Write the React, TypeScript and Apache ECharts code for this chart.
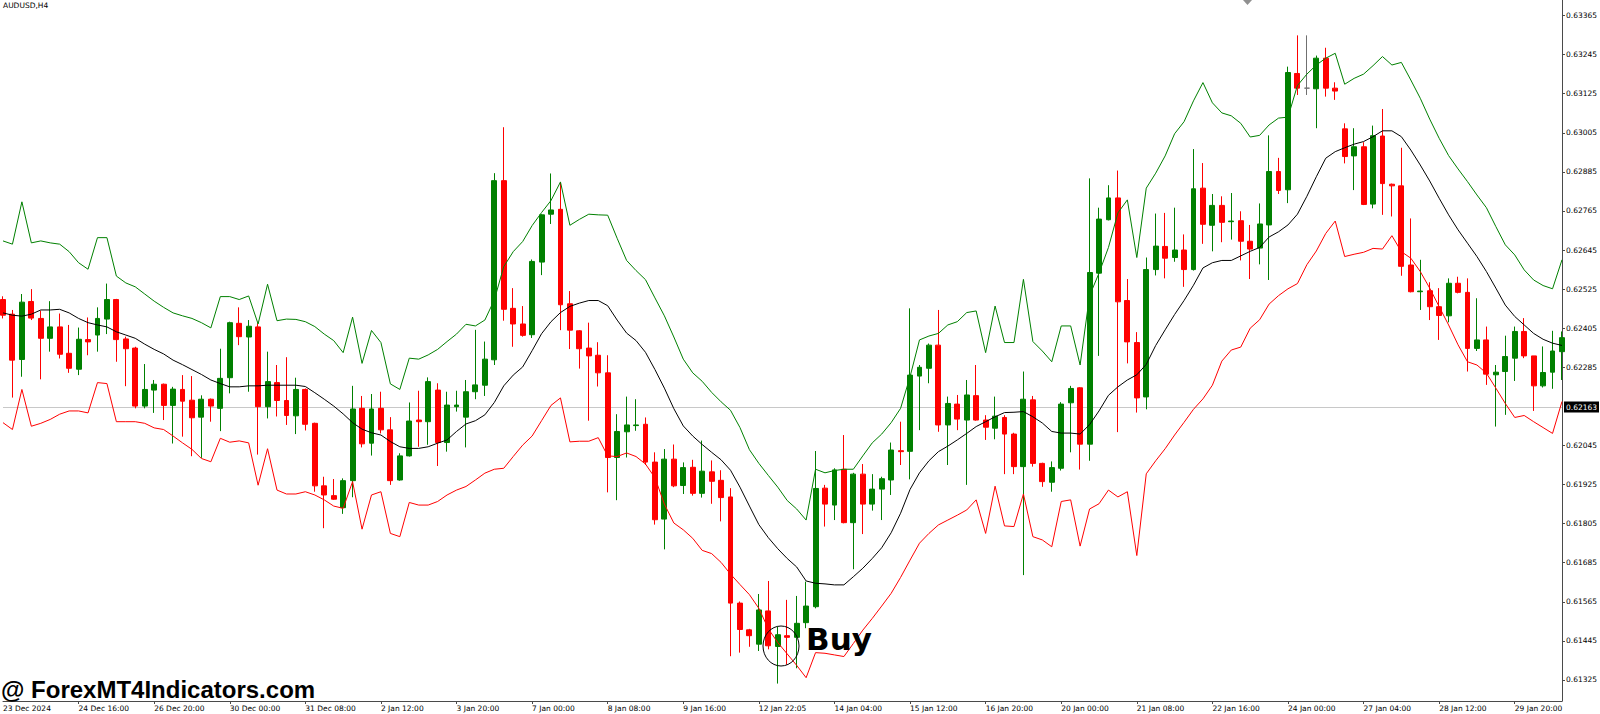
import React, { useEffect, useRef } from "react";
import * as echarts from "echarts";

const SYMBOL_TITLE = "AUDUSD,H4";
const WATERMARK = "@ ForexMT4Indicators.com";
const SIGNAL_TEXT = "Buy";
const CURRENT_PRICE = 0.62163;
const LABEL_EVERY = 8;

const timeLabels = [
  "23 Dec 2024", "24 Dec 16:00", "26 Dec 20:00", "30 Dec 00:00", "31 Dec 08:00",
  "2 Jan 12:00", "3 Jan 20:00", "7 Jan 00:00", "8 Jan 08:00", "9 Jan 16:00",
  "12 Jan 22:05", "14 Jan 04:00", "15 Jan 12:00", "16 Jan 20:00", "20 Jan 00:00",
  "21 Jan 08:00", "22 Jan 16:00", "24 Jan 00:00", "27 Jan 04:00", "28 Jan 12:00",
  "29 Jan 20:00",
];

const priceTicks = [
  0.63365, 0.63245, 0.63125, 0.63005, 0.62885, 0.62765, 0.62645, 0.62525, 0.62405,
  0.62285, 0.62045, 0.61925, 0.61805, 0.61685, 0.61565, 0.61445, 0.61325,
];

const openPrices = [
  0.62493,0.62448,0.62309,0.62487,0.62435,0.62374,0.62409,0.62328,0.62279,0.62370,
  0.62384,0.62433,0.62493,0.62372,0.62344,0.62166,0.62215,0.62233,0.62168,0.62217,
  0.62184,0.62132,0.62187,0.62159,0.62253,0.62420,0.62378,0.62409,0.62164,0.62238,
  0.62183,0.62136,0.62217,0.62113,0.61921,0.61891,0.61854,0.61937,0.62159,0.62052,
  0.62159,0.62093,0.61939,0.62013,0.62123,0.62118,0.62215,0.62054,0.62164,0.62132,
  0.62210,0.62230,0.62308,0.62858,0.62466,0.62418,0.62385,0.62608,0.62755,0.62770,
  0.62480,0.62397,0.62344,0.62322,0.62268,0.62008,0.62087,0.62106,0.62110,0.61994,
  0.61819,0.62003,0.61922,0.61978,0.61898,0.61964,0.61938,0.61887,0.61561,0.61479,
  0.61435,0.61537,0.61428,0.61461,0.61456,0.61501,0.61550,0.61914,0.61862,0.61972,
  0.61808,0.61957,0.61865,0.61911,0.61939,0.62029,0.62027,0.62258,0.62282,0.62353,
  0.62108,0.62172,0.62123,0.62198,0.62123,0.62098,0.62131,0.62080,0.61980,0.62185,
  0.61990,0.61932,0.61975,0.62176,0.62222,0.62049,0.62574,0.62738,0.62805,0.62490,
  0.62361,0.62194,0.62585,0.62656,0.62622,0.62645,0.62585,0.62835,0.62721,0.62782,
  0.62732,0.62735,0.62672,0.62651,0.62722,0.62886,0.62830,0.63187,0.63142,0.63140,
  0.63234,0.63142,0.63017,0.62934,0.62962,0.62786,0.62995,0.62847,0.62842,0.62599,
  0.62517,0.62520,0.62471,0.62443,0.62543,0.62515,0.62343,0.62369,0.62262,0.62272,
  0.62313,0.62395,0.62320,0.62228,0.62270,0.62333,
];

const closePrices = [
  0.62445,0.62307,0.62485,0.62436,0.62374,0.62409,0.62325,0.62282,0.62371,0.62363,
  0.62435,0.62493,0.62370,0.62342,0.62166,0.62217,0.62233,0.62168,0.62218,0.62181,
  0.62130,0.62187,0.62166,0.62251,0.62422,0.62379,0.62411,0.62164,0.62241,0.62183,
  0.62137,0.62217,0.62110,0.61921,0.61893,0.61880,0.61937,0.62157,0.62050,0.62157,
  0.62093,0.61937,0.62013,0.62120,0.62118,0.62241,0.62054,0.62169,0.62169,0.62210,
  0.62231,0.62310,0.62858,0.62463,0.62418,0.62383,0.62610,0.62753,0.62768,0.62477,
  0.62399,0.62342,0.62320,0.62268,0.62008,0.62088,0.62108,0.62108,0.61994,0.61817,
  0.62003,0.61921,0.61977,0.61898,0.61966,0.61935,0.61885,0.61561,0.61480,0.61461,
  0.61540,0.61430,0.61464,0.61456,0.61499,0.61552,0.61913,0.61865,0.61970,0.61808,
  0.61957,0.61865,0.61911,0.61943,0.62031,0.62026,0.62261,0.62285,0.62353,0.62108,
  0.62174,0.62126,0.62200,0.62123,0.62101,0.62135,0.62080,0.61980,0.62187,0.61990,
  0.61934,0.61977,0.62172,0.62220,0.62049,0.62576,0.62740,0.62805,0.62486,0.62363,
  0.62191,0.62585,0.62657,0.62620,0.62645,0.62585,0.62833,0.62724,0.62782,0.62730,
  0.62734,0.62672,0.62648,0.62725,0.62886,0.62828,0.63190,0.63142,0.63142,0.63234,
  0.63142,0.63133,0.62932,0.62962,0.62785,0.62996,0.62849,0.62842,0.62595,0.62517,
  0.62519,0.62471,0.62444,0.62543,0.62515,0.62343,0.62369,0.62264,0.62270,0.62318,
  0.62395,0.62320,0.62228,0.62269,0.62335,0.62376,
];

const highPrices = [
  0.62503,0.62461,0.62510,0.62525,0.62459,0.62488,0.62450,0.62415,0.62407,0.62438,
  0.62469,0.62542,0.62495,0.62379,0.62348,0.62295,0.62246,0.62235,0.62225,0.62261,
  0.62258,0.62199,0.62189,0.62342,0.62425,0.62469,0.62430,0.62420,0.62333,0.62292,
  0.62316,0.62253,0.62220,0.62115,0.61949,0.61942,0.61944,0.62228,0.62197,0.62203,
  0.62210,0.62132,0.62021,0.62177,0.62213,0.62254,0.62236,0.62210,0.62213,0.62246,
  0.62400,0.62364,0.62881,0.63022,0.62528,0.62473,0.62616,0.62755,0.62880,0.62854,
  0.62519,0.62399,0.62422,0.62362,0.62322,0.62141,0.62195,0.62187,0.62131,0.62024,
  0.62034,0.62048,0.61993,0.62001,0.62060,0.61999,0.61969,0.61914,0.61566,0.61482,
  0.61589,0.61629,0.61489,0.61571,0.61583,0.61627,0.62028,0.61924,0.61975,0.62077,
  0.61961,0.61988,0.61957,0.61949,0.62054,0.62118,0.62466,0.62292,0.62358,0.62461,
  0.62195,0.62200,0.62246,0.62292,0.62138,0.62195,0.62138,0.62084,0.62272,0.62197,
  0.61992,0.61996,0.62178,0.62228,0.62224,0.62865,0.62775,0.62844,0.62889,0.62556,
  0.62393,0.62622,0.62757,0.62759,0.62775,0.62693,0.62955,0.62912,0.62817,0.62810,
  0.62820,0.62764,0.62722,0.62788,0.62997,0.62928,0.63208,0.63304,0.63304,0.63242,
  0.63266,0.63160,0.63034,0.63019,0.62976,0.63027,0.63078,0.62849,0.62959,0.62742,
  0.62615,0.62546,0.62528,0.62558,0.62563,0.62558,0.62497,0.62410,0.62292,0.62382,
  0.62410,0.62436,0.62320,0.62349,0.62397,0.62395,
];

const lowPrices = [
  0.62435,0.62192,0.62256,0.62430,0.62248,0.62333,0.62312,0.62268,0.62261,0.62322,
  0.62333,0.62387,0.62302,0.62227,0.62159,0.62159,0.62145,0.62123,0.62051,0.62072,
  0.62012,0.62007,0.62118,0.62089,0.62205,0.62353,0.62210,0.62017,0.62128,0.62134,
  0.62108,0.62080,0.62091,0.61903,0.61791,0.61878,0.61835,0.61886,0.62039,0.62014,
  0.62082,0.61924,0.61937,0.62011,0.62041,0.62047,0.61982,0.62026,0.62149,0.62039,
  0.62187,0.62197,0.62292,0.62428,0.62348,0.62379,0.62375,0.62568,0.62725,0.62399,
  0.62341,0.62281,0.62121,0.62226,0.61901,0.61877,0.62008,0.62090,0.61985,0.61802,
  0.61726,0.61917,0.61896,0.61891,0.61885,0.61866,0.61812,0.61398,0.61409,0.61427,
  0.61414,0.61419,0.61314,0.61372,0.61361,0.61484,0.61545,0.61796,0.61816,0.61806,
  0.61665,0.61773,0.61845,0.61816,0.61893,0.61985,0.61941,0.62092,0.62236,0.62087,
  0.61985,0.62092,0.61924,0.62121,0.62062,0.62064,0.61957,0.61957,0.61647,0.61980,
  0.61918,0.61903,0.61968,0.62024,0.61971,0.61998,0.62320,0.62736,0.62086,0.62297,
  0.62146,0.62156,0.62567,0.62558,0.62609,0.62532,0.62582,0.62664,0.62641,0.62669,
  0.62677,0.62613,0.62556,0.62601,0.62553,0.62817,0.62789,0.63121,0.63121,0.63019,
  0.63116,0.63106,0.62911,0.62829,0.62783,0.62773,0.62753,0.62748,0.62566,0.62515,
  0.62461,0.62430,0.62369,0.62423,0.62512,0.62272,0.62335,0.62231,0.62103,0.62139,
  0.62243,0.62313,0.62151,0.62223,0.62219,0.62246,
];

const upperBand = [
  0.62673,0.62663,0.62793,0.62667,0.62673,0.62667,0.62663,0.62640,0.62606,0.62586,
  0.62683,0.62683,0.62565,0.62544,0.62532,0.62510,0.62488,0.62469,0.62452,0.62443,
  0.62435,0.62422,0.62406,0.62502,0.62502,0.62493,0.62504,0.62418,0.62540,0.62428,
  0.62433,0.62432,0.62425,0.62410,0.62387,0.62367,0.62330,0.62439,0.62297,0.62398,
  0.62361,0.62234,0.62217,0.62313,0.62310,0.62323,0.62340,0.62364,0.62387,0.62417,
  0.62412,0.62430,0.62492,0.62594,0.62640,0.62671,0.62720,0.62760,0.62797,0.62854,
  0.62721,0.62739,0.62755,0.62753,0.62752,0.62681,0.62613,0.62582,0.62554,0.62498,
  0.62443,0.62378,0.62310,0.62268,0.62242,0.62208,0.62179,0.62153,0.62100,0.62032,
  0.61990,0.61953,0.61917,0.61876,0.61850,0.61816,0.61972,0.61961,0.61968,0.61972,
  0.61972,0.62013,0.62053,0.62080,0.62115,0.62159,0.62256,0.62369,0.62381,0.62389,
  0.62415,0.62425,0.62453,0.62458,0.62330,0.62473,0.62361,0.62361,0.62555,0.62364,
  0.62335,0.62302,0.62412,0.62412,0.62292,0.62505,0.62574,0.62653,0.62759,0.62799,
  0.62622,0.62835,0.62881,0.62934,0.63002,0.63039,0.63103,0.63159,0.63097,0.63066,
  0.63057,0.63034,0.62992,0.62997,0.63029,0.63050,0.63053,0.63150,0.63185,0.63213,
  0.63234,0.63249,0.63154,0.63172,0.63185,0.63211,0.63239,0.63213,0.63221,0.63167,
  0.63111,0.63047,0.62988,0.62935,0.62894,0.62855,0.62814,0.62775,0.62717,0.62661,
  0.62630,0.62584,0.62553,0.62536,0.62526,0.62615,
];

const middleLine = [
  0.62452,0.62445,0.62442,0.62448,0.62461,0.62461,0.62463,0.62452,0.62435,0.62422,
  0.62415,0.62409,0.62394,0.62384,0.62374,0.62356,0.62340,0.62326,0.62307,0.62293,
  0.62278,0.62263,0.62246,0.62235,0.62225,0.62225,0.62228,0.62228,0.62230,0.62230,
  0.62230,0.62230,0.62226,0.62207,0.62187,0.62166,0.62142,0.62115,0.62095,0.62084,
  0.62077,0.62057,0.62041,0.62036,0.62036,0.62041,0.62052,0.62062,0.62088,0.62111,
  0.62121,0.62139,0.62177,0.62228,0.62261,0.62286,0.62336,0.62388,0.62425,0.62453,
  0.62472,0.62482,0.62490,0.62490,0.62474,0.62430,0.62390,0.62367,0.62331,0.62278,
  0.62221,0.62158,0.62105,0.62074,0.62048,0.62024,0.62001,0.61969,0.61917,0.61859,
  0.61802,0.61762,0.61728,0.61698,0.61672,0.61629,0.61622,0.61620,0.61617,0.61617,
  0.61642,0.61668,0.61698,0.61731,0.61777,0.61837,0.61910,0.61961,0.61998,0.62026,
  0.62043,0.62062,0.62082,0.62103,0.62118,0.62133,0.62146,0.62147,0.62149,0.62133,
  0.62114,0.62088,0.62083,0.62083,0.62080,0.62109,0.62151,0.62199,0.62225,0.62246,
  0.62262,0.62294,0.62352,0.62400,0.62447,0.62490,0.62537,0.62590,0.62606,0.62613,
  0.62613,0.62627,0.62641,0.62653,0.62685,0.62701,0.62722,0.62755,0.62810,0.62870,
  0.62927,0.62947,0.62959,0.62970,0.62978,0.62993,0.63011,0.63011,0.62993,0.62952,
  0.62906,0.62857,0.62804,0.62753,0.62707,0.62666,0.62625,0.62579,0.62528,0.62476,
  0.62441,0.62415,0.62389,0.62371,0.62359,0.62352,
];

const lowerBand = [
  0.62115,0.62094,0.62217,0.62104,0.62113,0.62125,0.62141,0.62151,0.62151,0.62145,
  0.62238,0.62235,0.62118,0.62118,0.62118,0.62113,0.62099,0.62094,0.62074,0.62053,
  0.62033,0.62005,0.61995,0.62067,0.62055,0.62059,0.62053,0.61923,0.62035,0.61908,
  0.61896,0.61896,0.61903,0.61893,0.61878,0.61859,0.61852,0.61934,0.61788,0.61893,
  0.61903,0.61775,0.61765,0.61870,0.61862,0.61862,0.61873,0.61893,0.61908,0.61919,
  0.61939,0.61960,0.61972,0.61975,0.62011,0.62046,0.62074,0.62121,0.62168,0.62191,
  0.62056,0.62058,0.62058,0.62069,0.62013,0.62011,0.62022,0.62011,0.61988,0.61946,
  0.61865,0.61807,0.61786,0.61760,0.61723,0.61713,0.61686,0.61650,0.61618,0.61587,
  0.61545,0.61482,0.61440,0.61405,0.61370,0.61332,0.61409,0.61407,0.61402,0.61397,
  0.61437,0.61478,0.61514,0.61552,0.61591,0.61640,0.61693,0.61745,0.61775,0.61801,
  0.61816,0.61831,0.61847,0.61878,0.61775,0.61920,0.61798,0.61796,0.61896,0.61765,
  0.61755,0.61734,0.61873,0.61878,0.61736,0.61850,0.61866,0.61908,0.61887,0.61903,
  0.61707,0.61958,0.61998,0.62035,0.62077,0.62116,0.62156,0.62188,0.62230,0.62304,
  0.62338,0.62347,0.62405,0.62431,0.62479,0.62505,0.62526,0.62542,0.62600,0.62642,
  0.62696,0.62734,0.62625,0.62632,0.62638,0.62650,0.62648,0.62689,0.62640,0.62620,
  0.62579,0.62528,0.62471,0.62415,0.62354,0.62302,0.62292,0.62267,0.62221,0.62174,
  0.62131,0.62137,0.62118,0.62100,0.62082,0.62180,
];

const AXIS_FONT = "DejaVu Sans";
const UP = "#008000";
const DOWN = "#ff0000";
const AXIS_COLOR = "#4a4a4a";

function buildOption() {
  const categories = openPrices.map((_, i) => "bar" + i);
  const candles = openPrices.map((o, i) => [o, closePrices[i], lowPrices[i], highPrices[i]]);
  const showEvery = (i: number) => i % LABEL_EVERY === 0;
  return {
    animation: false,
    backgroundColor: "#ffffff",
    grid: { left: -0.2, right: 37, top: 0, bottom: 13, containLabel: false },
    xAxis: {
      type: "category",
      data: categories,
      boundaryGap: false,
      axisLine: { show: true, lineStyle: { color: AXIS_COLOR, width: 1 } },
      axisTick: {
        show: true,
        length: 3,
        interval: (i: number) => i > 0 && showEvery(i),
        lineStyle: { color: AXIS_COLOR },
      },
      axisLabel: {
        show: true,
        interval: (i: number) => showEvery(i),
        formatter: (_v: string, i: number) => timeLabels[i / LABEL_EVERY] ?? "",
        align: "left",
        margin: 3,
        color: "#000",
        fontSize: 7.5,
        fontFamily: AXIS_FONT,
      },
      splitLine: { show: false },
    },
    yAxis: {
      type: "value",
      position: "right",
      min: 0.612605,
      max: 0.634126,
      scale: true,
      axisLine: { show: true, lineStyle: { color: AXIS_COLOR, width: 1 } },
      axisTick: { show: true, length: 3, customValues: priceTicks, lineStyle: { color: AXIS_COLOR } },
      axisLabel: {
        show: true,
        customValues: priceTicks,
        formatter: (v: number) => v.toFixed(5),
        margin: 4,
        color: "#000",
        fontSize: 7.5,
        fontFamily: AXIS_FONT,
      },
      splitLine: { show: false },
    },
    series: [
      {
        name: SYMBOL_TITLE,
        type: "candlestick",
        z: 2,
        data: candles,
        barWidth: 5.4,
        clip: true,
        silent: true,
        itemStyle: {
          color: UP,
          color0: DOWN,
          borderColor: UP,
          borderColor0: DOWN,
          borderColorDoji: "#707070",
          borderWidth: 1,
        },
        markLine: {
          silent: true,
          z: 1,
          precision: 5,
          symbol: ["none", "none"],
          animation: false,
          lineStyle: { color: "#c8c8c8", width: 1.2, type: "solid" },
          label: {
            show: true,
            position: "end",
            distance: 2,
            formatter: CURRENT_PRICE.toFixed(5),
            backgroundColor: "#000",
            color: "#fff",
            fontSize: 7.5,
            fontFamily: AXIS_FONT,
            padding: [2, 2, 1, 2],
          },
          emphasis: { disabled: true },
          data: [{ yAxis: CURRENT_PRICE }],
        },
      },
      {
        name: "upper",
        type: "line",
        z: 3,
        data: upperBand,
        symbol: "none",
        silent: true,
        lineStyle: { color: UP, width: 1 },
      },
      {
        name: "middle",
        type: "line",
        z: 3,
        data: middleLine,
        symbol: "none",
        silent: true,
        lineStyle: { color: "#000", width: 1 },
      },
      {
        name: "lower",
        type: "line",
        z: 3,
        data: lowerBand,
        symbol: "none",
        silent: true,
        lineStyle: { color: DOWN, width: 1 },
      },
    ],
    graphic: [
      {
        type: "text",
        left: 3,
        top: 1,
        z: 10,
        style: { text: SYMBOL_TITLE, fill: "#000", fontSize: 7.5, fontFamily: AXIS_FONT },
      },
      {
        type: "polygon",
        z: 10,
        shape: { points: [[1243, 0], [1252, 0], [1247.5, 5]] },
        style: { fill: "#909090" },
      },
      {
        type: "ellipse",
        z: 10,
        shape: { cx: 781, cy: 646, rx: 18, ry: 20 },
        style: { fill: "none", stroke: "#000", lineWidth: 1 },
      },
      {
        type: "text",
        z: 10,
        x: 806,
        y: 639,
        style: {
          text: SIGNAL_TEXT,
          fill: "#000",
          fontSize: 31,
          fontWeight: "bold",
          fontFamily: "DejaVu Sans",
          verticalAlign: "middle",
          align: "left",
        },
      },
      {
        type: "text",
        z: 10,
        x: 1,
        y: 689,
        style: {
          text: WATERMARK,
          fill: "#000",
          fontSize: 24,
          fontWeight: "bold",
          fontFamily: "Liberation Sans",
          verticalAlign: "middle",
          align: "left",
        },
      },
    ],
  };
}

export default function App() {
  const ref = useRef<HTMLDivElement | null>(null);
  useEffect(() => {
    if (!ref.current) return;
    const chart = echarts.init(ref.current, undefined, { renderer: "svg" });
    chart.setOption(buildOption() as any);
    return () => chart.dispose();
  }, []);
  return (
    <div
      ref={ref}
      style={{ position: "fixed", left: 0, top: 0, width: 1600, height: 714, background: "#fff" }}
    />
  );
}
